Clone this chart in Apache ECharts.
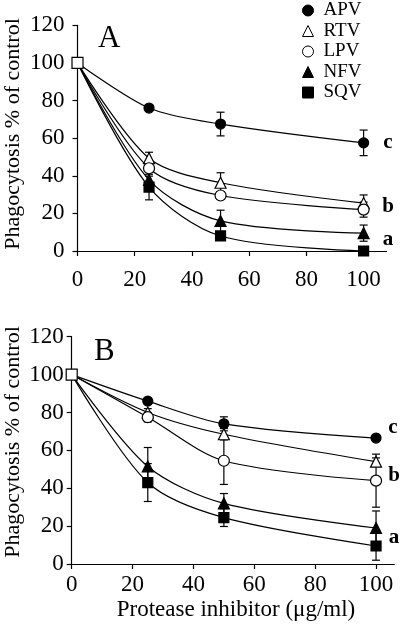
<!DOCTYPE html>
<html>
<head>
<meta charset="utf-8">
<script src="https://cdn.jsdelivr.net/npm/echarts@6/dist/echarts.min.js"></script>
<style>html,body{margin:0;padding:0;background:#fff}#c{width:400px;height:627px}</style>
</head>
<body>
<div id="c"></div>
<script>
// ---- data ----
const doses = [0, 25, 50, 100];
const drugs = ['APV', 'RTV', 'LPV', 'NFV', 'SQV'];
const xTicks = [0, 20, 40, 60, 80, 100];
const yTicks = [0, 20, 40, 60, 80, 100, 120];
const groupLetters = ['c', 'b', 'a'];

// Panel A
const aAPV = [100, 76, 67.5, 57.5];
const aRTV = [100, 49.3, 36.3, 25.5];
const aLPV = [100, 44, 29.5, 22];
const aNFV = [100, 37.8, 16, 9.5];
const aSQV = [100, 34, 8, 0];
const aAPVerr = [0, 1.5, 6.3, 6.8];
const aRTVerr = [0, 3.2, 5.3, 4.3];
const aLPVerr = [0, 2, 2, 4];
const aNFVerr = [0, 2, 5.7, 4.3];
const aSQVerr = [0, 6.8, 2, 1];

// Panel B
const bAPV = [100, 86, 74, 66.5];
const bRTV = [100, 80, 68.5, 54];
const bLPV = [100, 77.5, 54.5, 44];
const bNFV = [100, 51.5, 32, 19];
const bSQV = [100, 43, 24.5, 9.5];
const bAPVerr = [0, 1.5, 3.7, 1];
const bRTVerr = [0, 2, 3, 2];
const bLPVerr = [0, 2.5, 12.5, 14];
const bNFVerr = [0, 10, 5.2, 9];
const bSQVerr = [0, 10, 4.7, 7.5];

// ---- styles ----
const FONT = 'Liberation Serif';
const symStyle = {
  APV: {symbol: 'circle', size: 10, fill: '#000'},
  RTV: {symbol: 'triangle', size: 11, fill: '#fff'},
  LPV: {symbol: 'circle', size: 11, fill: '#fff'},
  NFV: {symbol: 'triangle', size: 11, fill: '#000'},
  SQV: {symbol: 'rect', size: 10, fill: '#000'}
};

const panels = [
  {vals: [aAPV, aRTV, aLPV, aNFV, aSQV], errs: [aAPVerr, aRTVerr, aLPVerr, aNFVerr, aSQVerr]},
  {vals: [bAPV, bRTV, bLPV, bNFV, bSQV], errs: [bAPVerr, bRTVerr, bLPVerr, bNFVerr, bSQVerr]}
];

const series = [];
panels.forEach((p, pi) => {
  const errData = [];
  p.vals.forEach((arr, si) => {
    arr.forEach((v, i) => {
      const e = p.errs[si][i];
      if (e > 0) errData.push([doses[i], v - e, v + e]);
    });
  });
  series.push({
    type: 'custom', xAxisIndex: pi, yAxisIndex: pi, z: 1, silent: true,
    data: errData,
    renderItem: function (params, api) {
      const x = api.value(0);
      const lo = api.coord([x, api.value(1)]);
      const hi = api.coord([x, api.value(2)]);
      const w = 4;
      const st = {stroke: '#000', lineWidth: 1.2};
      return {type: 'group', children: [
        {type: 'line', shape: {x1: lo[0], y1: lo[1], x2: hi[0], y2: hi[1]}, style: st},
        {type: 'line', shape: {x1: hi[0] - w, y1: hi[1], x2: hi[0] + w, y2: hi[1]}, style: st},
        {type: 'line', shape: {x1: lo[0] - w, y1: lo[1], x2: lo[0] + w, y2: lo[1]}, style: st}
      ]};
    }
  });
  drugs.forEach((name, si) => {
    const s = symStyle[name];
    const data = p.vals[si].map((v, i) => {
      if (i === 0) {
        if (name === 'LPV') return {value: [doses[i], v], symbol: 'rect', symbolSize: 11, itemStyle: {color: '#fff', borderColor: '#000', borderWidth: 1.2}};
        return {value: [doses[i], v], symbol: 'none'};
      }
      return [doses[i], v];
    });
    series.push({
      type: 'line', name: name, xAxisIndex: pi, yAxisIndex: pi,
      z: name === 'LPV' ? 4 : 3,
      smooth: 0.3,
      data: data,
      symbol: s.symbol, symbolSize: s.size, showAllSymbol: true,
      lineStyle: {color: '#000', width: 1.2},
      itemStyle: {color: s.fill, borderColor: '#000', borderWidth: 1.2},
      emphasis: {disabled: true},
      animation: false
    });
  });
});

function xAxisCfg(gi, max, margin) {
  return {
    type: 'value', gridIndex: gi, min: 0, max: max,
    axisLine: {show: true, onZero: false, lineStyle: {color: '#000', width: 1.2}},
    axisTick: {show: true, customValues: xTicks, length: 5, lineStyle: {color: '#000', width: 1.2}},
    axisLabel: {customValues: xTicks, margin: margin, color: '#000', fontFamily: FONT, fontSize: 23},
    splitLine: {show: false}
  };
}
function yAxisCfg(gi, margin) {
  return {
    type: 'value', gridIndex: gi, min: 0, max: 120, interval: 20,
    axisLine: {show: true, onZero: false, lineStyle: {color: '#000', width: 1.2}},
    axisTick: {show: true, length: 5, lineStyle: {color: '#000', width: 1.2}},
    axisLabel: {margin: margin, color: '#000', fontFamily: FONT, fontSize: 23},
    splitLine: {show: false}
  };
}

const letterStyle = {fontFamily: FONT, fontSize: 21, fontWeight: 'bold', fill: '#000', textAlign: 'center', textVerticalAlign: 'middle'};
const graphics = [
  {type: 'text', left: 98, top: 23, style: {text: 'A', fontFamily: FONT, fontSize: 31, fill: '#000'}},
  {type: 'text', left: 94, top: 336, style: {text: 'B', fontFamily: FONT, fontSize: 31, fill: '#000'}},
  {type: 'text', x: 13, y: 134, rotation: Math.PI / 2, style: {text: 'Phagocytosis % of control', fontFamily: FONT, fontSize: 22, fill: '#000', textAlign: 'center', textVerticalAlign: 'middle'}},
  {type: 'text', x: 13, y: 442, rotation: Math.PI / 2, style: {text: 'Phagocytosis % of control', fontFamily: FONT, fontSize: 22, fill: '#000', textAlign: 'center', textVerticalAlign: 'middle'}},
  {type: 'text', x: 236, y: 610, style: {text: 'Protease inhibitor (\u03bcg/ml)', fontFamily: FONT, fontSize: 23, fill: '#000', textAlign: 'center', textVerticalAlign: 'middle'}},
  {type: 'text', x: 388, y: 143, style: Object.assign({text: groupLetters[0]}, letterStyle)},
  {type: 'text', x: 388, y: 207, style: Object.assign({text: groupLetters[1]}, letterStyle)},
  {type: 'text', x: 388, y: 240, style: Object.assign({text: groupLetters[2]}, letterStyle)},
  {type: 'text', x: 393, y: 428, style: Object.assign({text: groupLetters[0]}, letterStyle)},
  {type: 'text', x: 394, y: 476, style: Object.assign({text: groupLetters[1]}, letterStyle)},
  {type: 'text', x: 394, y: 538, style: Object.assign({text: groupLetters[2]}, letterStyle)}
];

const chart = echarts.init(document.getElementById('c'), null, {renderer: 'canvas'});
chart.setOption({
  animation: false,
  backgroundColor: '#fff',
  grid: [
    {left: 77.5, top: 25.3, width: 309, height: 225.7},
    {left: 71.7, top: 336.7, width: 322.6, height: 227.3}
  ],
  xAxis: [xAxisCfg(0, 108, 17), xAxisCfg(1, 106, 9)],
  yAxis: [yAxisCfg(0, 13), yAxisCfg(1, 8)],
  legend: {
    orient: 'vertical', left: 297, top: -4,
    itemWidth: 11, itemHeight: 11, itemGap: 1.5,
    textStyle: {fontFamily: FONT, fontSize: 19, color: '#000', padding: [0, 0, 0, 5]},
    selectedMode: false,
    data: drugs.map(n => ({name: n, icon: symStyle[n].symbol,
      itemStyle: {color: symStyle[n].fill, borderColor: '#000', borderWidth: 1}}))
  },
  series: series,
  graphic: graphics
});
</script>
</body>
</html>
